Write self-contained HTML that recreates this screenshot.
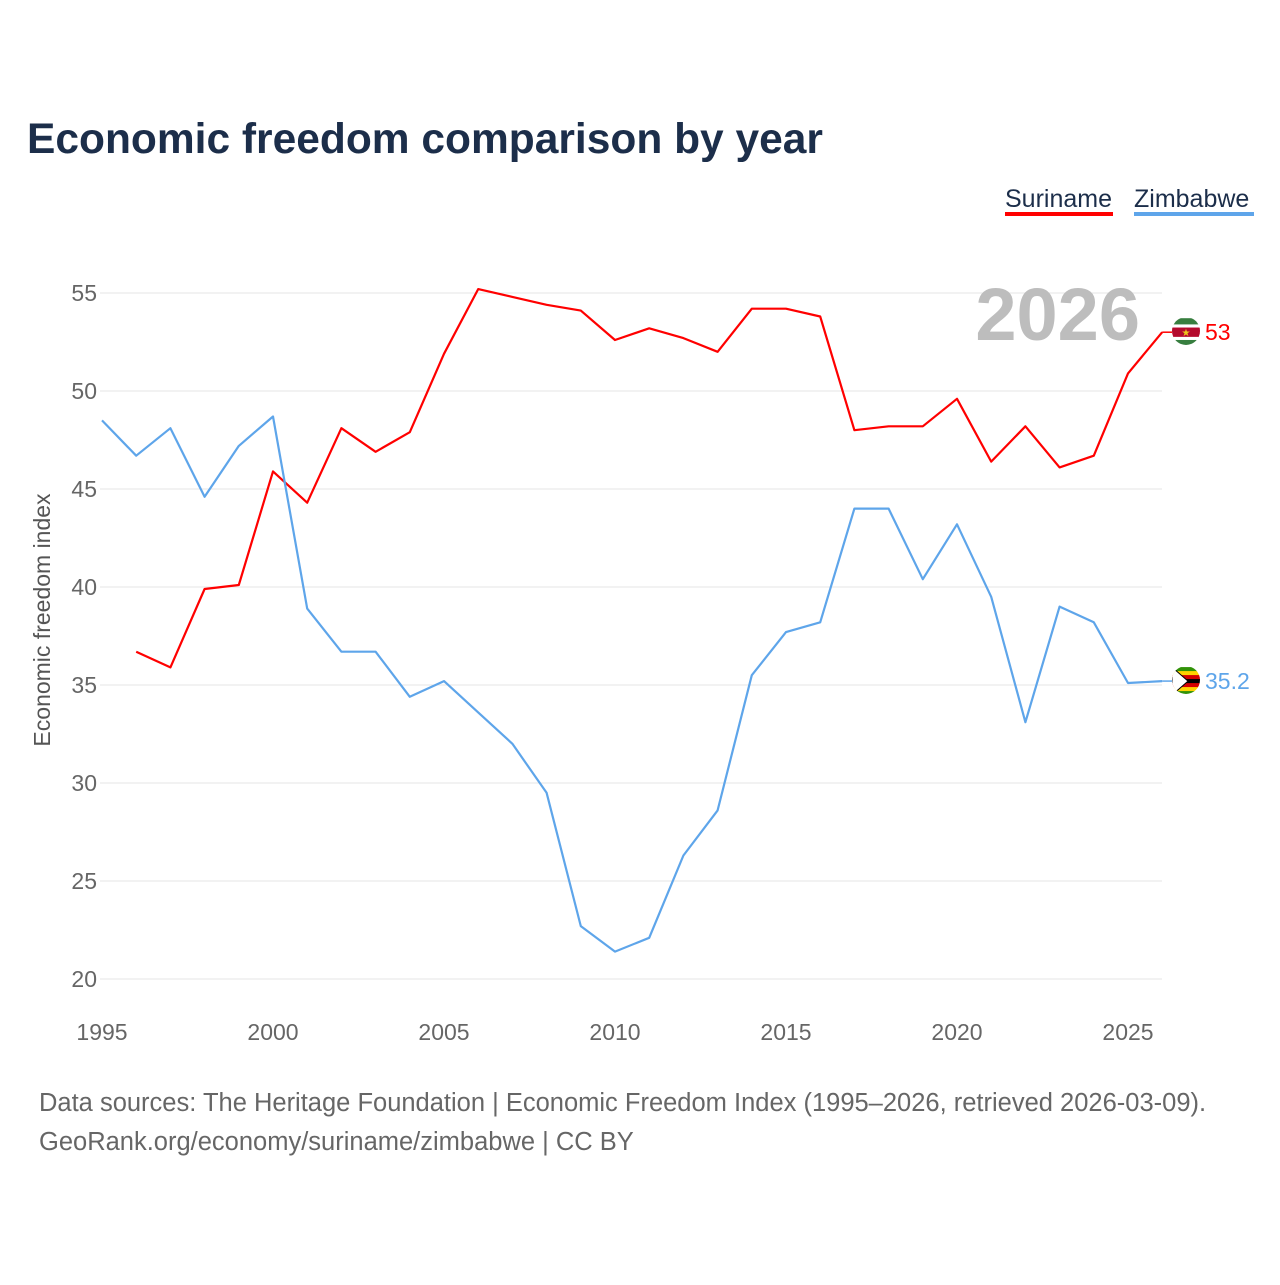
<!DOCTYPE html>
<html><head><meta charset="utf-8"><style>
body{margin:0;background:#fff;font-family:"Liberation Sans",sans-serif;}
</style></head><body>
<svg id="chart" width="1280" height="1280" viewBox="0 0 1280 1280" xmlns="http://www.w3.org/2000/svg">
<defs>
<clipPath id="cs"><circle cx="1186" cy="331" r="14"/></clipPath>
<clipPath id="cz"><circle cx="1186" cy="680" r="14"/></clipPath>
</defs>
<rect width="1280" height="1280" fill="#fff"/>
<text x="27" y="153" font-size="42.5" font-weight="bold" fill="#1c2e4a">Economic freedom comparison by year</text>
<g>
<text x="1005" y="207" font-size="25" fill="#1c2e4a">Suriname</text>
<rect x="1005" y="212" width="108" height="4" fill="#f00"/>
<text x="1134" y="207" font-size="25" fill="#1c2e4a">Zimbabwe</text>
<rect x="1134" y="212" width="120" height="4" fill="#5ea5ea"/>
</g>
<g id="grid"></g>
<text x="1140" y="340" text-anchor="end" font-size="74" font-weight="bold" fill="#bdbdbd">2026</text>
<text transform="translate(50,620) rotate(-90)" text-anchor="middle" font-size="23" fill="#555">Economic freedom index</text>
<g id="series"></g>
<g font-size="25.5" fill="#666">
<text x="39" y="1111">Data sources: The Heritage Foundation | Economic Freedom Index (1995–2026, retrieved 2026-03-09).</text>
<text x="39" y="1150">GeoRank.org/economy/suriname/zimbabwe | CC BY</text>
</g>
</svg>
<script>
const years=[1995,1996,1997,1998,1999,2000,2001,2002,2003,2004,2005,2006,2007,2008,2009,2010,2011,2012,2013,2014,2015,2016,2017,2018,2019,2020,2021,2022,2023,2024,2025,2026];
const suriname=[null,36.7,35.9,39.9,40.1,45.9,44.3,48.1,46.9,47.9,51.9,55.2,54.8,54.4,54.1,52.6,53.2,52.7,52.0,54.2,54.2,53.8,48.0,48.2,48.2,49.6,46.4,48.2,46.1,46.7,50.9,53.0];
const zimbabwe=[48.5,46.7,48.1,44.6,47.2,48.7,38.9,36.7,36.7,34.4,35.2,33.6,32.0,29.5,22.7,21.4,22.1,26.3,28.6,35.5,37.7,38.2,44.0,44.0,40.4,43.2,39.5,33.1,39.0,38.2,35.1,35.2];
const yTicks=[20,25,30,35,40,45,50,55];
const xTicks=[1995,2000,2005,2010,2015,2020,2025];
const NS="http://www.w3.org/2000/svg";
const x=v=>102+(v-1995)*(1128-102)/30;
const y=v=>979-(v-20)*(979-293)/35;
const grid=document.getElementById('grid'),ser=document.getElementById('series');
function mk(tag,attrs,parent,text){const e=document.createElementNS(NS,tag);for(const k in attrs)e.setAttribute(k,attrs[k]);if(text!==undefined)e.textContent=text;parent.appendChild(e);return e;}
yTicks.forEach(t=>{
 const l=mk('line',{x1:100,x2:1162,y1:y(t),y2:y(t),stroke:'#e6e6e6','stroke-width':1},grid);
 
 
 const tx=mk('text',{x:97,y:y(t)+8,'text-anchor':'end','font-size':23,fill:'#666'},grid,String(t));
 
 
});
xTicks.forEach(t=>{
 const tx=mk('text',{x:x(t),y:1040,'text-anchor':'middle','font-size':23,fill:'#666'},grid,String(t));
 
 
});
function line(vals,color,name,label,stripes,clip){
 let d='';vals.forEach((v,i)=>{if(v==null)return;d+=(d?'L':'M')+x(years[i]).toFixed(1)+','+y(v).toFixed(1);});
 const p=mk('path',{d:d,fill:'none',stroke:color,'stroke-width':2.2,'stroke-linejoin':'round'},ser);
 
 
 const last=vals[vals.length-1];
 const cy=y(last);
 mk('line',{x1:x(2026),x2:1172,y1:cy,y2:cy,stroke:color,'stroke-width':1.5},ser);
 const g=mk('g',{'clip-path':'url(#'+clip+')'},ser);
 
 
 const h=28/stripes.length;
 stripes.forEach((c,i)=>mk('rect',{x:1172,y:cy-14+i*h,width:28,height:h+0.5,fill:c},g));
 if(name==='zimbabwe')mk('path',{d:`M1172,${cy-14}L1188,${cy}L1172,${cy+14}Z`,fill:'#fff',stroke:'#000','stroke-width':1},g);
 if(name==='suriname')mk('text',{x:1186,y:cy+4,'text-anchor':'middle','font-size':10,fill:'#ecc81d'},g,'★');
 const t=mk('text',{x:1205,y:cy+8,'font-size':23,fill:color},ser,label);
 
 
}
line(suriname,'#f00','suriname','53',['#377e3f','#377e3f','#fff','#b40a2d','#b40a2d','#b40a2d','#fff','#377e3f','#377e3f'],'cs');
line(zimbabwe,'#5ea5ea','zimbabwe','35.2',['#319208','#ffd200','#d40000','#000','#d40000','#ffd200','#319208'],'cz');
</script>
</body></html>
